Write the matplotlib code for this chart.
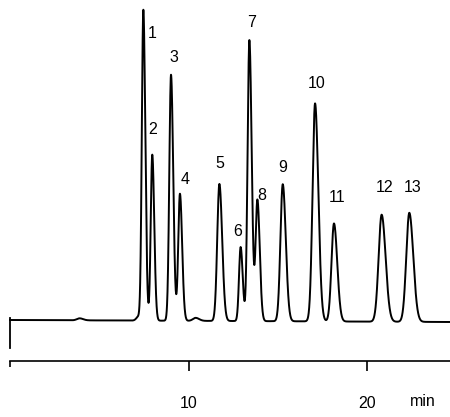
import matplotlib.pyplot as plt
import numpy as np

plt.rcParams['font.family'] = ['Liberation Sans', 'DejaVu Sans']

# peak table (retention time in min, height in detector units)
peak_labels = ['1', '2', '3', '4', '5', '6', '7', '8', '9', '10', '11', '12', '13']
peak_times = [7.47, 7.97, 9.02, 9.52, 11.73, 12.92, 13.41, 13.86, 15.28, 17.09, 18.15, 20.82, 22.37]
peak_heights = [310, 166, 246, 127, 137, 74, 281, 121, 137, 218, 98, 107, 109]
peak_widths = [0.085, 0.085, 0.095, 0.095, 0.12, 0.09, 0.1, 0.1, 0.13, 0.14, 0.14, 0.17, 0.17]

# small baseline disturbances
bump_times = [3.9, 10.4, 7.2]
bump_heights = [2.0, 3.0, 4.0]
bump_widths = [0.15, 0.15, 0.12]

# label offsets in pixels (dx, dy) from the peak apex
label_offsets = [(9, -23), (0, 25), (3, 17), (5, 13), (0, 20), (-3, 15), (2, 17),
                 (4, 4), (0, 16), (2, 19), (3, 25), (3, 25), (3, 24)]

t = np.linspace(0, 24.7, 6000)
signal = -2.0 * t / 24.7
for tr, h, w in zip(peak_times + bump_times, peak_heights + bump_heights, peak_widths + bump_widths):
    sig = np.where(t < tr, w, 1.3 * w)  # slight tailing
    signal = signal + h * np.exp(-0.5 * ((t - tr) / sig) ** 2)

fig = plt.figure(figsize=(4.5, 4.17), dpi=100)
ax = fig.add_axes([0, 0, 1, 1])
px = 17.85  # pixels per minute
ax.set_xlim(-10 / px, 440 / px)
ax.set_ylim(-97, 320)

ax.plot(t, signal, color='black', lw=1.4)
# injection mark
ax.plot([0, 0], [2, -28], color='black', lw=1.3)

for lab, tr, h, (dx, dy) in zip(peak_labels, peak_times, peak_heights, label_offsets):
    ax.annotate(lab, (tr, h), xytext=(dx * 0.72, dy * 0.72), textcoords='offset points',
                ha='center', va='center', fontsize=11.5)

# time axis
for s in ['left', 'right', 'top']:
    ax.spines[s].set_visible(False)
ax.spines['bottom'].set_position(('data', -41))
ax.spines['bottom'].set_bounds(0, 440 / px)
ax.spines['bottom'].set_linewidth(1.2)
ax.set_yticks([])
ax.set_xticks([10, 20])
ax.set_xticklabels(['10', '20'])
ax.set_xticks([0], minor=True)
ax.tick_params(axis='x', which='major', direction='out', length=7, width=1.2,
               pad=18, labelsize=11.5)
ax.tick_params(axis='x', which='minor', direction='out', length=4, width=1.2)
ax.text(23.1, -82, 'min', ha='center', va='center', fontsize=11.5)

fig.savefig('out.png', dpi=100)
